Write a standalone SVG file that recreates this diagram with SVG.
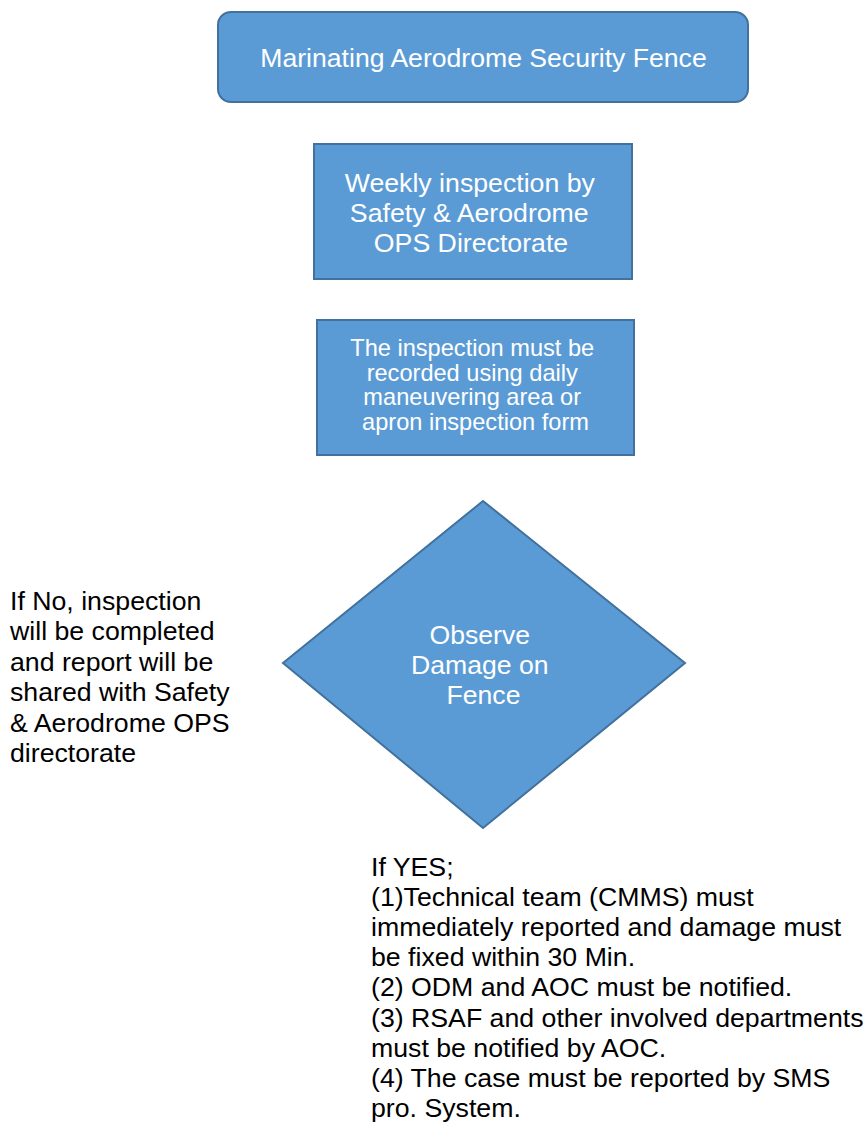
<svg xmlns="http://www.w3.org/2000/svg" width="866" height="1126" viewBox="0 0 866 1126">
  <style>
    .shape { fill: #5B9BD5; stroke: #41719C; stroke-width: 2; }
    .label { font-family: "Liberation Sans", Arial, sans-serif; fill: #ffffff; text-anchor: middle; }
    .note { font-family: "Liberation Sans", Arial, sans-serif; fill: #000000; font-size: 26.7px; }
  </style>
  <rect width="866" height="1126" fill="#ffffff"/>

  <g id="node-fence">
    <rect class="shape" x="218" y="12" width="530" height="90" rx="13" ry="13"/>
    <text class="label" x="483.5" y="66.5" font-size="26.6">Marinating Aerodrome Security Fence</text>
  </g>

  <g id="node-weekly">
    <rect class="shape" x="314" y="144" width="318" height="135"/>
    <text class="label" font-size="26.7">
      <tspan x="473.5" y="191.5">Weekly inspection by</tspan>
      <tspan x="473" y="221.5">Safety &amp; Aerodrome</tspan>
      <tspan x="471" y="251.5">OPS Directorate</tspan>
    </text>
  </g>

  <g id="node-record">
    <rect class="shape" x="317" y="320" width="317" height="135"/>
    <text class="label" font-size="23.6">
      <tspan x="475.5" y="356">The inspection must be</tspan>
      <tspan x="475.5" y="380.7">recorded using daily</tspan>
      <tspan x="475.5" y="405.4">maneuvering area or</tspan>
      <tspan x="475.5" y="430.1">apron inspection form</tspan>
    </text>
  </g>

  <g id="node-decision">
    <polygon class="shape" points="483,501 685,663 483,828 283,663"/>
    <text class="label" font-size="26.6">
      <tspan x="483.5" y="644">Observe</tspan>
      <tspan x="483.5" y="674">Damage on</tspan>
      <tspan x="483.5" y="704">Fence</tspan>
    </text>
  </g>

  <g id="note-no">
    <text class="note">
      <tspan x="10" y="610">If No, inspection</tspan>
      <tspan x="10" y="640.4">will be completed</tspan>
      <tspan x="10" y="670.8">and report will be</tspan>
      <tspan x="10" y="701.2">shared with Safety</tspan>
      <tspan x="10" y="731.6">&amp; Aerodrome OPS</tspan>
      <tspan x="10" y="762">directorate</tspan>
    </text>
  </g>

  <g id="note-yes">
    <text class="note">
      <tspan x="371" y="876">If YES;</tspan>
      <tspan x="371" y="906.1">(1)Technical team (CMMS) must</tspan>
      <tspan x="371" y="936.2">immediately reported and damage must</tspan>
      <tspan x="371" y="966.3">be fixed within 30 Min.</tspan>
      <tspan x="371" y="996.4">(2) ODM and AOC must be notified.</tspan>
      <tspan x="371" y="1026.5">(3) RSAF and other involved departments</tspan>
      <tspan x="371" y="1056.6">must be notified by AOC.</tspan>
      <tspan x="371" y="1086.7">(4) The case must be reported by SMS</tspan>
      <tspan x="371" y="1116.8">pro. System.</tspan>
    </text>
  </g>

  <g id="connectors"></g>
</svg>
